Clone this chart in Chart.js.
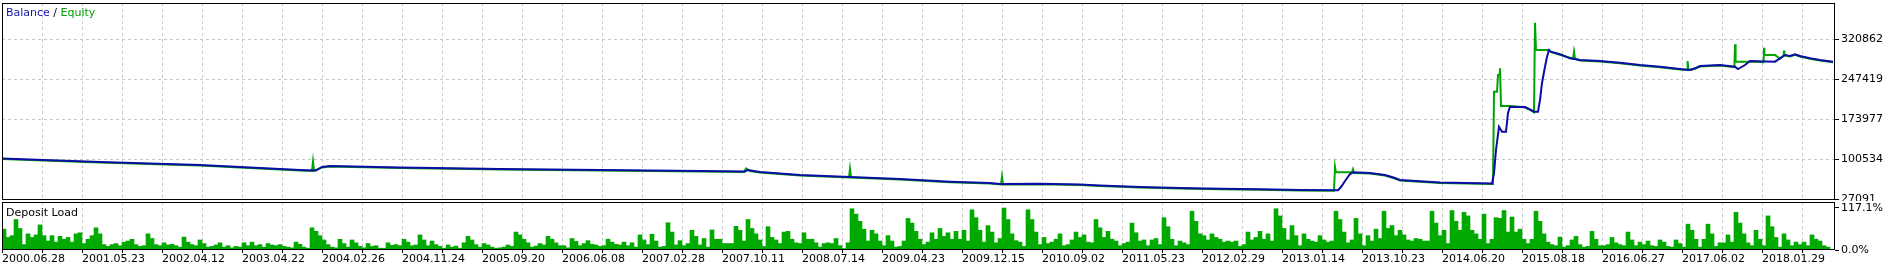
<!DOCTYPE html>
<html>
<head>
<meta charset="utf-8">
<script src="https://cdn.jsdelivr.net/npm/chart.js@4.4.1/dist/chart.umd.min.js"></script>
<style>
  body { margin: 0; background: #fff; width: 1889px; height: 268px; overflow: hidden; position: relative;
         font-family: "DejaVu Sans", sans-serif; font-size: 11px; color: #000; }
  canvas { position: absolute; left: 0; }
  #mainChart { top: 0; }
  #loadChart { top: 201px; }
  .caption { position: absolute; left: 6px; line-height: 13px; white-space: nowrap; }
</style>
</head>
<body>
<canvas id="mainChart" width="1889" height="201"></canvas>
<canvas id="loadChart" width="1889" height="67"></canvas>
<div class="caption" style="top:6px"><span style="color:#1414a8">Balance</span> / <span style="color:#00a000">Equity</span></div>
<div class="caption" style="top:206px">Deposit Load</div>
<script>
// date labels shown under every second grid line (one grid step = 10 trades)
const xDates = ["2000.06.28", "2001.05.23", "2002.04.12", "2003.04.22", "2004.02.26", "2004.11.24",
    "2005.09.20", "2006.06.08", "2007.02.28", "2007.10.11", "2008.07.14", "2009.04.23", "2009.12.15",
    "2010.09.02", "2011.05.23", "2012.02.29", "2013.01.14", "2013.10.23", "2014.06.20", "2015.08.18",
    "2016.06.27", "2017.06.02", "2018.01.29"];

// balance curve (trade index, value)
const balIdx = [0, 24.5, 49.5, 74.5, 78.5, 80, 82, 99.5, 124.5, 149.5,
    174.5, 185.75, 186.5, 189.5, 199.5, 212, 224.5, 237, 247, 249.5,
    259.5, 269.5, 274.5, 284.5, 294.5, 304.5, 314.5, 324.5, 334, 334.75,
    335.75, 337, 337.75, 342, 345.75, 348.25, 349.5, 359.5, 372.5, 373,
    373.5, 374.25, 375, 376, 376.5, 377, 380.75, 382, 383, 384,
    384.5, 385, 385.75, 386.25, 386.75, 387.25, 389.5, 392, 394.5, 399.5,
    404.5, 409.5, 414.5, 419.5, 422, 423.25, 424.5, 429.5, 433.25, 434,
    435.75, 437, 443.25, 444.5, 445.75, 447, 448.25, 449.5, 452, 454.5, 457.75];
const balVal = [102400, 95900, 90400, 81300, 80300, 86800, 88600, 85800, 83100, 81300,
    79400, 78500, 81300, 77600, 72100, 68400, 64700, 59800, 57400, 55600,
    56100, 54600, 52800, 50000, 48200, 46900, 45800, 44500, 44000, 50000,
    61100, 73900, 77000, 75800, 72100, 66600, 62900, 58300, 56500, 75200,
    118000, 160800, 151600, 151600, 185900, 197500, 196900, 192700, 188300, 188300,
    209800, 241000, 270900, 289300, 301600, 298500, 293700, 286300, 283200, 281400,
    278300, 274000, 270900, 266700, 264900, 268000, 272200, 274000, 270900, 266700,
    274000, 281400, 280100, 286300, 292400, 290600, 293700, 290600, 286300, 283200, 280100];

// equity curve (trade index, value)
const eqIdx = [0, 24.5, 49.5, 74.5, 77.5, 77.75, 78, 80, 82, 99.5,
    124.5, 149.5, 174.5, 185.5, 186, 187, 189.5, 199.5, 211.75, 212,
    212.25, 224.5, 237, 247, 249.75, 250, 250.25, 259.5, 269.5, 274.5,
    284.5, 294.5, 304.5, 314.5, 324.5, 333, 333.25, 333.5, 337.5, 337.75,
    338, 342, 345.75, 348.25, 349.5, 359.5, 372.75, 373, 373.75, 374,
    374.4, 374.5, 374.75, 377, 380.75, 382, 383, 383.25, 383.5, 386.5,
    387.25, 389.5, 392.75, 393, 393.25, 394.5, 399.5, 404.5, 409.5, 414.5,
    419.5, 421.25, 421.4, 421.6, 423.25, 424.5, 429.5, 433.1, 433.25, 433.4,
    436.5, 437, 440.4, 440.5, 440.6, 443.25, 444.5, 445.4, 445.5, 445.6,
    447, 448.25, 449.5, 452, 454.5, 457.75];
const eqVal = [101500, 95000, 89500, 80300, 79600, 96900, 79800, 86000, 87800, 85000,
    82200, 80300, 78500, 77600, 84000, 79500, 76700, 71200, 67500, 83100,
    67500, 63800, 58900, 56500, 54600, 69000, 54600, 55200, 53700, 51900,
    49100, 47300, 46000, 44900, 43600, 43000, 87300, 77000, 77000, 82500,
    75500, 74800, 71200, 65700, 62000, 57400, 55500, 225000, 225000, 255700,
    255700, 268000, 198800, 198800, 196000, 191800, 187400, 351700, 301600, 301600,
    297600, 292800, 285400, 298500, 285400, 282300, 280500, 277400, 273100, 270000,
    265800, 264800, 281400, 264800, 267100, 271300, 273100, 270000, 312000, 280100,
    280100, 280500, 279200, 305800, 292400, 292400, 285400, 291500, 300300, 291500,
    289700, 292800, 289700, 285400, 282300, 279000];

const yTicks = [27091, 100534, 173977, 247419, 320862];
const loadTicks = [0, 117.1];

// deposit load, %, one bar per trade
const depositLoad = [
    58, 35, 40, 85, 60, 15, 45, 35, 42, 70, 40, 25, 40, 22, 38, 30, 35, 22, 45, 48,
    18, 30, 40, 62, 45, 15, 10, 15, 18, 12, 22, 25, 30, 15, 10, 12, 45, 32, 15, 12,
    20, 14, 16, 12, 8, 36, 22, 15, 12, 28, 18, 8, 10, 14, 20, 8, 12, 6, 10, 8,
    20, 12, 22, 12, 15, 8, 18, 14, 12, 15, 10, 8, 6, 22, 16, 8, 5, 62, 52, 40,
    28, 15, 8, 6, 30, 18, 8, 28, 20, 10, 6, 18,
    10, 12, 5, 5, 20, 13, 15, 12, 30, 22, 12, 14, 42, 28, 12, 25, 15, 10, 5, 14,
    8, 11, 5, 20, 38, 28, 15, 8, 18, 14, 8, 5, 6, 8, 14, 10, 50, 42, 30, 20,
    8, 11, 18, 14, 38, 30, 20, 12, 12, 6, 32, 24, 12, 18, 26, 16, 14, 10, 12, 30,
    22, 16, 14, 22, 12, 20, 8, 42, 28, 15, 44, 25, 8, 10, 76, 50, 14, 26, 12, 18,
    55, 38, 14, 32, 8, 56, 30, 30, 18, 18, 18, 66,
    55, 25, 85, 60, 45, 28, 10, 65, 35, 28, 18, 50, 52, 30, 20, 18, 48, 30, 30, 20,
    8, 18, 20, 18, 32, 12, 4, 20, 115, 100, 80, 58, 25, 55, 45, 25, 12, 40, 25, 8,
    10, 25, 88, 75, 52, 30, 15, 22, 48, 30, 60, 38, 48, 30, 52, 30, 55, 25, 112, 90,
    55, 22, 68, 50, 20, 32, 117, 85, 45, 26, 22, 10, 112, 85, 50, 15, 35, 18, 22, 30,
    45, 12, 15, 28, 50, 35, 42, 22, 20, 85, 62, 35,
    52, 30, 25, 12, 18, 22, 75, 48, 25, 28, 12, 28, 32, 15, 90, 65, 30, 12, 25, 20,
    15, 108, 80, 45, 40, 28, 45, 35, 30, 22, 25, 22, 25, 10, 15, 50, 28, 35, 52, 30,
    45, 25, 115, 95, 60, 28, 68, 40, 12, 45, 30, 25, 22, 40, 28, 22, 25, 108, 85, 50,
    20, 28, 88, 45, 12, 40, 25, 58, 32, 108, 60, 68, 40, 55, 42, 28, 25, 32, 30, 25,
    25, 108, 75, 40, 55, 18, 110, 80, 55, 105, 95, 55,
    45, 30, 100, 18, 30, 90, 88, 110, 50, 92, 50, 58, 30, 18, 30, 108, 80, 45, 22, 15,
    12, 36, 8, 12, 28, 38, 15, 8, 10, 52, 30, 12, 12, 15, 35, 20, 15, 12, 50, 28,
    12, 22, 15, 25, 12, 10, 28, 22, 10, 8, 28, 18, 8, 72, 55, 30, 8, 30, 72, 45,
    10, 20, 20, 42, 22, 105, 75, 45, 20, 12, 55, 30, 12, 95, 65, 35, 8, 45, 28, 12,
    22, 15, 22, 12, 42, 30, 25, 12, 8, 0
];

const xMax = 458.25;
const gridColor = "#c8c8c8";

Chart.defaults.font.family = "DejaVu Sans";
Chart.defaults.font.size = 11;
Chart.defaults.color = "#000";

// black frame around each panel
const frame = {
    id: "frame",
    afterDraw(chart) {
        const a = chart.chartArea;
        const ctx = chart.ctx;
        ctx.save();
        ctx.strokeStyle = "#000";
        ctx.lineWidth = 1;
        ctx.strokeRect(a.left + 0.5, a.top + 0.5, a.right - a.left - 1, a.bottom - a.top - 1);
        ctx.restore();
    }
};

function gridTicks(scale) {
    scale.ticks = [];
    for (let v = 0; v <= 450; v += 10) scale.ticks.push({ value: v });
}

// keep chart.js from growing the plot margins for edge labels
function fixSize(w, h) {
    return s => {
        if (w !== null) s.width = w;
        if (h !== null) s.height = h;
        s.paddingTop = 0;
        s.paddingBottom = 0;
        s.paddingLeft = 0;
        s.paddingRight = 0;
    };
}

// Balance / Equity panel
new Chart(document.getElementById("mainChart"), {
    type: "line",
    data: {
        datasets: [{
            label: "Balance",
            data: balIdx.map((x, i) => ({ x: x, y: balVal[i] })),
            borderColor: "#0c0ca6",
            borderWidth: 2,
            pointRadius: 0
        }, {
            label: "Equity",
            data: eqIdx.map((x, i) => ({ x: x, y: eqVal[i] })),
            borderColor: "#00a400",
            borderWidth: 2,
            pointRadius: 0
        }]
    },
    options: {
        responsive: false,
        animation: false,
        devicePixelRatio: 1,
        layout: { padding: { left: 2, top: 3, right: 0, bottom: 1 } },
        plugins: { legend: { display: false }, tooltip: { enabled: false } },
        scales: {
            x: {
                type: "linear", min: 0, max: xMax, offset: false,
                afterBuildTicks: gridTicks,
                afterFit: fixSize(null, 0),
                ticks: { display: false },
                grid: { color: gridColor, drawTicks: false, offset: false },
                border: { display: false, dash: [3, 3] }
            },
            y: {
                position: "right", min: 26173, max: 387879,
                afterBuildTicks: s => { s.ticks = yTicks.map(v => ({ value: v })); },
                afterFit: fixSize(54, null),
                ticks: { padding: 2, callback: v => String(v) },
                grid: { color: gridColor, tickLength: 4, tickColor: "#000", tickBorderDash: [] },
                border: { display: false, dash: [3, 3] }
            }
        }
    },
    plugins: [frame]
});

// Deposit Load panel
new Chart(document.getElementById("loadChart"), {
    type: "bar",
    data: {
        datasets: [{
            label: "Deposit Load",
            data: depositLoad.map((v, i) => ({ x: i + 0.5, y: v })),
            backgroundColor: "#00aa00",
            borderWidth: 0,
            barPercentage: 1,
            categoryPercentage: 1
        }]
    },
    options: {
        responsive: false,
        animation: false,
        devicePixelRatio: 1,
        layout: { padding: { left: 2, top: 1, right: 0, bottom: 0 } },
        plugins: { legend: { display: false }, tooltip: { enabled: false } },
        scales: {
            x: {
                type: "linear", min: 0, max: xMax, offset: false,
                afterBuildTicks: gridTicks,
                afterFit: fixSize(null, 18),
                ticks: {
                    autoSkip: false, maxRotation: 0, align: "start", padding: 0,
                    callback: v => (v % 20 === 0 ? xDates[v / 20] : "")
                },
                grid: { color: gridColor, tickLength: 3, tickColor: "#000", tickBorderDash: [], offset: false },
                border: { display: false, dash: [3, 3] }
            },
            y: {
                position: "right", min: 0, max: 133.8,
                afterBuildTicks: s => { s.ticks = loadTicks.map(v => ({ value: v })); },
                afterFit: fixSize(54, null),
                ticks: { padding: 2, callback: v => v.toFixed(1) + "%" },
                grid: { drawOnChartArea: false, tickLength: 4, tickColor: "#000" },
                border: { display: false }
            }
        }
    },
    plugins: [frame]
});
</script>
</body>
</html>
